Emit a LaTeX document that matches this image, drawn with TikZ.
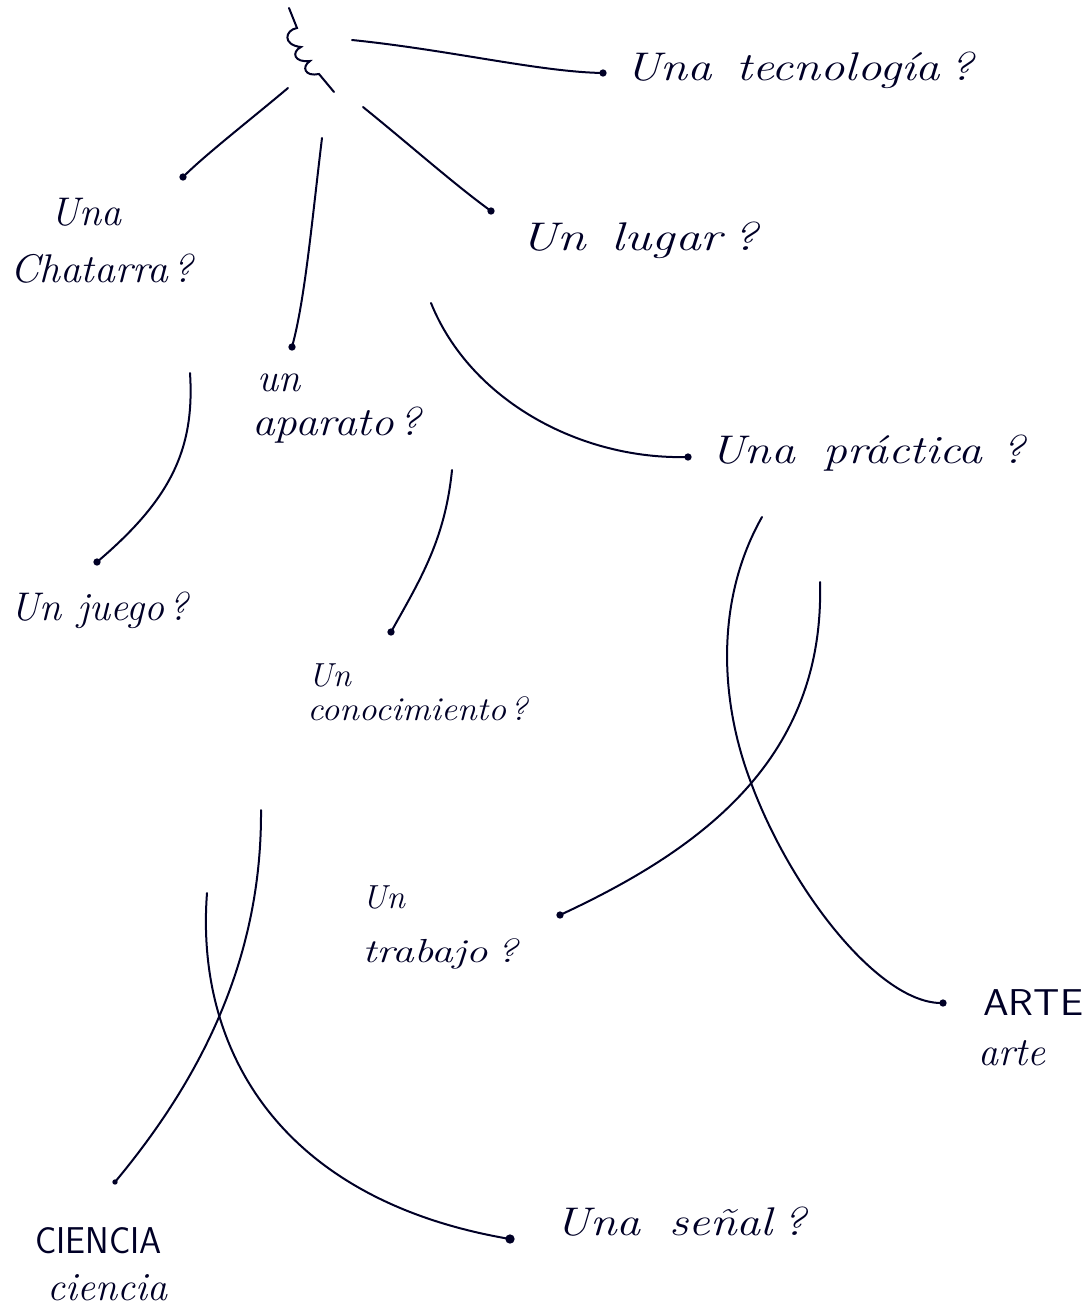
\documentclass[tikz,border=0pt]{standalone}
\usepackage{fontspec}
\usepackage{graphicx}
\begin{document}
\begin{tikzpicture}[x=0.75pt,y=-0.75pt,
  ink/.style={line width=1.5pt,color=black!85!blue,line cap=round},
  dotnode/.style={circle,fill=black!85!blue,inner sep=0pt,minimum size=5.5pt},
  lab/.style={anchor=base west,inner sep=0pt,font=\fontsize{30}{32}\selectfont\itshape,color=black!85!blue},
  labs/.style={lab,font=\fontsize{25}{28}\selectfont\itshape},
  caps/.style={anchor=base west,inner sep=0pt,font=\fontsize{28}{30}\selectfont\sffamily,color=black!85!blue}]
\useasboundingbox (0,0) rectangle (1087,1310);
% squiggle
\draw[ink] (289,8) -- (297,28)
  .. controls (285,30) and (282,45) .. (301,47)
  .. controls (291,52) and (294,63) .. (310,61)
  .. controls (301,67) and (305,77) .. (319,74)
  -- (334,92);
% coordinates (free ends)
\coordinate (s1) at (352,40);
\coordinate (s2) at (288,88);
\coordinate (s3) at (322,138);
\coordinate (s4) at (363,107);
\coordinate (s5) at (431,303);
\coordinate (s6) at (190,373);
\coordinate (s7) at (452,470);
\coordinate (s8) at (762,517);
\coordinate (s9) at (820,582);
\coordinate (s10) at (261,810);
\coordinate (s11) at (207,893);
% dots
\node[dotnode] (d1) at (603,73) {};
\node[dotnode] (d2) at (183,177) {};
\node[dotnode] (d3) at (292,347) {};
\node[dotnode] (d4) at (491,211) {};
\node[dotnode] (d5) at (688,457) {};
\node[dotnode] (d6) at (97,562) {};
\node[dotnode] (d7) at (391,632) {};
\node[dotnode] (d8) at (943,1003) {};
\node[dotnode] (d9) at (560,915) {};
\node[dotnode,minimum size=4pt] (d10) at (115,1182) {};
\node[dotnode,minimum size=7pt] (d11) at (510,1239) {};
% connectors
\draw[ink] (s1) .. controls (450,50) and (540,72) .. (d1.center);
\draw[ink] (s2) .. controls (250,120) and (205,155) .. (d2.center);
\draw[ink] (s3) .. controls (312,220) and (305,300) .. (d3.center);
\draw[ink] (s4) .. controls (410,145) and (455,185) .. (d4.center);
\draw[ink] (s5) .. controls (470,400) and (580,460) .. (d5.center);
\draw[ink] (s6) .. controls (195,450) and (170,500) .. (d6.center);
\draw[ink] (s7) .. controls (445,540) and (420,580) .. (d7.center);
\draw[ink] (s8) .. controls (715,600) and (720,700) .. (750,780)
  .. controls (790,890) and (880,1005) .. (d8.center);
\draw[ink] (s9) .. controls (825,760) and (700,850) .. (d9.center);
\draw[ink] (s10) .. controls (262,960) and (200,1080) .. (d10.center);
\draw[ink] (s11) .. controls (195,1050) and (280,1200) .. (d11.center);
% labels
\node[lab] (t1) at (625,80) {\scalebox{1.22}[1]{Una\hspace{0.5em}tecnología\hspace{0.2em}?}};
\node[lab] (t2a) at (50,225) {Una};
\node[lab] (t2b) at (10,282) {\scalebox{1.04}[1]{Chatarra\hspace{0.1em}?}};
\node[lab] (t3a) at (257,391) {un};
\node[lab] (t3b) at (252,435) {\scalebox{1.13}[1]{aparato\hspace{0.1em}?}};
\node[lab] (t4) at (520,250) {\scalebox{1.29}[1]{Un\hspace{0.5em}lugar\hspace{0.2em}?}};
\node[lab] (t5) at (710,463) {\scalebox{1.19}[1]{Una\hspace{0.6em}práctica\hspace{0.4em}?}};
\node[lab] (t6) at (10,620) {Un\hspace{0.4em}juego\hspace{0.1em}?};
\node[labs] (t7a) at (308,686) {Un};
\node[labs] (t7b) at (307,720) {\scalebox{1.07}[1]{conocimiento\hspace{0.1em}?}};
\node[labs] (t8a) at (362,908) {Un};
\node[labs] (t8b) at (362,962) {\scalebox{1.3}[1]{trabajo\hspace{0.2em}?}};
\node[caps] (t9a) at (983,1015) {\scalebox{1.1}[1]{ARTE}};
\node[lab] (t9b) at (978,1065) {arte};
\node[caps] (t10a) at (35,1253) {\scalebox{0.95}[1]{CIENCIA}};
\node[lab] (t10b) at (47,1300) {ciencia};
\node[lab] (t11) at (555,1235) {\scalebox{1.2}[1]{Una\hspace{0.6em}señal\hspace{0.2em}?}};
\end{tikzpicture}
\end{document}
